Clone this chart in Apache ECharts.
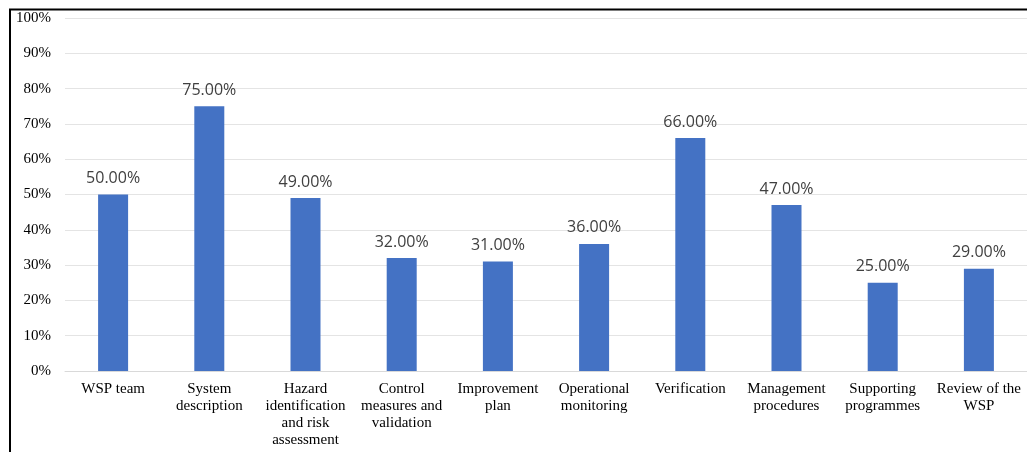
<!DOCTYPE html>
<html><head><meta charset="utf-8">
<script src="https://cdn.jsdelivr.net/npm/echarts@6/dist/echarts.min.js"></script>
<style>html,body{margin:0;padding:0;background:#fff}#c{width:1027px;height:452px}</style>
</head><body><div id="c"></div>
<script>
const categories = ['WSP team','System\ndescription','Hazard\nidentification\nand risk\nassessment','Control\nmeasures and\nvalidation','Improvement\nplan','Operational\nmonitoring','Verification','Management\nprocedures','Supporting\nprogrammes','Review of the\nWSP'];
const values = [50, 75, 49, 32, 31, 36, 66, 47, 25, 29];
const yTicks = [0,10,20,30,40,50,60,70,80,90,100];

const chart = echarts.init(document.getElementById('c'));
chart.setOption({
  animation: false,
  grid: {left: 65, right: 0, top: 18, bottom: 81, containLabel: false},
  graphic: [
    {type:'line', shape:{x1:9,y1:9.5,x2:1027,y2:9.5}, style:{stroke:'#000',lineWidth:2}},
    {type:'line', shape:{x1:10,y1:9,x2:10,y2:452}, style:{stroke:'#000',lineWidth:2}}
  ],
  xAxis: {
    type: 'category', data: categories,
    axisLine: {lineStyle: {color: '#d9d9d9'}},
    axisTick: {show: false},
    axisLabel: {interval: 0, fontFamily: 'Liberation Serif', fontSize: 15, color: '#000', lineHeight: 17, margin: 10}
  },
  yAxis: {
    type: 'value', min: 0, max: 100, interval: 10,
    axisLabel: {formatter: v => yTicks.includes(v) ? v + '%' : '', fontFamily: 'Liberation Serif', fontSize: 15, color: '#000', margin: 14},
    splitLine: {lineStyle: {color: '#e4e4e4'}},
    axisLine: {show: false}, axisTick: {show: false}
  },
  series: [{
    type: 'bar', data: values, barWidth: 30,
    itemStyle: {color: '#4472c4'},
    label: {show: true, position: 'top', distance: 8, formatter: p => p.value.toFixed(2) + '%', fontFamily: 'Open Sans', fontSize: 16, color: '#404040'}
  }]
});
</script></body></html>
